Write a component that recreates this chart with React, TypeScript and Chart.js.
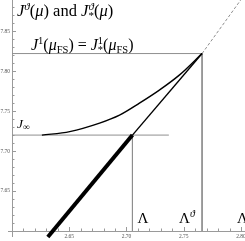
import React, { useEffect, useRef } from "react";
import { Chart, registerables } from "chart.js";

Chart.register(...registerables);

// ---- data ----
const xTickValues = [2.65, 2.7, 2.75, 2.8];
const yTickValues = [7.65, 7.7, 7.75, 7.8, 7.85];
const xRange = [2.6, 2.8035];
const yRange = [7.6, 7.889];

const J1 = 7.822; // J^1(mu_FS)
const Jinf = 7.72; // J_infinity
const Lambda = 2.7052;
const LambdaTheta = 2.766;
const JinfLineEnd = 2.737;

// J^theta(mu) curve
const curveX = [2.6261, 2.6504, 2.6765, 2.6939, 2.7113, 2.7287, 2.7461, 2.766];
const curveY = [7.72, 7.7244, 7.735, 7.745, 7.76, 7.7763, 7.795, 7.822];

// J^theta_*(mu) straight line: thick part, thin part
const thickX = [2.6313, Lambda];
const thickY = [7.5925, Jinf];
const thinX = [Lambda, LambdaTheta];
const thinY = [Jinf, J1];
// dashed continuation
const dashX = [LambdaTheta, 2.8];
const dashY = [J1, 7.8895];

const FAMILY = '"Liberation Serif", "DejaVu Serif", serif';

type Seg = { t?: string; it?: boolean; size?: number; dy?: number; stack?: Seg[] };

function drawRich(ctx: CanvasRenderingContext2D, x: number, y: number, segs: Seg[], base: number) {
  const drawOne = (s: Seg, px: number) => {
    const size = s.size ?? base;
    ctx.font = `${s.it ? "italic " : ""}${size}px ${FAMILY}`;
    ctx.fillText(s.t || "", px, y + (s.dy || 0));
    return ctx.measureText(s.t || "").width;
  };
  for (const s of segs) {
    if (s.stack) {
      let w = 0;
      for (const sub of s.stack) w = Math.max(w, drawOne(sub, x));
      x += w;
    } else {
      x += drawOne(s, x);
    }
  }
}

const annotations = {
  id: "annotations",
  beforeDatasetsDraw(chart: any) {
    const ctx: CanvasRenderingContext2D = chart.ctx;
    const xs = chart.scales.x;
    const ys = chart.scales.y;
    const x0 = xs.getPixelForValue(xRange[0]);
    const y0 = ys.getPixelForValue(yRange[0]);
    ctx.save();
    ctx.strokeStyle = "#9a9a9a";
    ctx.lineWidth = 1;
    ctx.beginPath();
    // y axis (extends slightly below x axis)
    ctx.moveTo(Math.round(x0) + 0.5, 0);
    ctx.lineTo(Math.round(x0) + 0.5, y0 + 6);
    // x axis (extends slightly left of y axis)
    ctx.moveTo(x0 - 4, Math.round(y0) + 0.5);
    ctx.lineTo(chart.width, Math.round(y0) + 0.5);
    ctx.stroke();
    // inward ticks
    ctx.beginPath();
    for (let k = 0; k <= 30; k++) {
      const v = 7.6 + k * 0.01;
      if (v > yRange[1]) break;
      const major = yTickValues.some((t) => Math.abs(t - v) < 1e-6);
      const py = Math.round(ys.getPixelForValue(v)) + 0.5;
      ctx.moveTo(x0, py);
      ctx.lineTo(x0 + (major ? 4 : 2.5), py);
    }
    for (let k = 0; k <= 25; k++) {
      const v = 2.6 + k * 0.01;
      if (v > xRange[1]) break;
      const major = xTickValues.some((t) => Math.abs(t - v) < 1e-6);
      const px = Math.round(xs.getPixelForValue(v)) + 0.5;
      ctx.moveTo(px, y0);
      ctx.lineTo(px, y0 - (major ? 4 : 2.5));
    }
    ctx.stroke();
    ctx.restore();
  },
  afterDatasetsDraw(chart: any) {
    const ctx: CanvasRenderingContext2D = chart.ctx;
    const xs = chart.scales.x;
    const ys = chart.scales.y;
    ctx.save();
    ctx.fillStyle = "#000";
    ctx.textAlign = "left";
    ctx.textBaseline = "alphabetic";
    const x0 = xs.getPixelForValue(xRange[0]);
    // title label
    drawRich(
      ctx,
      x0 + 5,
      16,
      [
        { t: "J", it: true },
        { t: "ϑ", it: true, size: 11, dy: -6 },
        { t: "(" },
        { t: "μ", it: true },
        { t: ") and " },
        { t: "J", it: true },
        { stack: [{ t: "ϑ", it: true, size: 11, dy: -6 }, { t: "*", size: 11, dy: 3 }] },
        { t: "(" },
        { t: "μ", it: true },
        { t: ")" },
      ],
      16.5
    );
    // J^1 label
    const yJ1 = ys.getPixelForValue(J1);
    drawRich(
      ctx,
      x0 + 19,
      yJ1 - 4,
      [
        { t: "J", it: true },
        { t: "1", size: 10.5, dy: -6 },
        { t: "(" },
        { t: "μ", it: true },
        { t: "FS", size: 10.5, dy: 3 },
        { t: ") = " },
        { t: "J", it: true },
        { stack: [{ t: "1", size: 10.5, dy: -6 }, { t: "*", size: 10.5, dy: 3 }] },
        { t: "(" },
        { t: "μ", it: true },
        { t: "FS", size: 10.5, dy: 3 },
        { t: ")" },
      ],
      16
    );
    // J_inf label
    const yJi = ys.getPixelForValue(Jinf);
    drawRich(
      ctx,
      x0 + 5,
      yJi - 7,
      [
        { t: "J", it: true },
        { t: "∞", size: 9.5, dy: 2 },
      ],
      13.5
    );
    // Lambda labels
    const yL = ys.getPixelForValue(yRange[0]) - 8;
    drawRich(ctx, xs.getPixelForValue(Lambda) + 5, yL, [{ t: "Λ" }], 15);
    drawRich(
      ctx,
      xs.getPixelForValue(LambdaTheta) - 23,
      yL,
      [{ t: "Λ" }, { t: "ϑ", it: true, size: 10, dy: -6 }],
      15
    );
    drawRich(ctx, xs.getPixelForValue(2.8) - 4, yL, [{ t: "Λ" }], 15);
    ctx.restore();
  },
};

const pts = (xs: number[], ys: number[]) => xs.map((x, i) => ({ x, y: ys[i] }));

export default function App() {
  const ref = useRef<HTMLCanvasElement | null>(null);
  useEffect(() => {
    document.body.style.margin = "0";
    const grey = "#8f8f8f";
    const chart = new Chart(ref.current as HTMLCanvasElement, {
      type: "scatter",
      data: {
        datasets: [
          { data: pts(curveX, curveY), borderColor: "#000", borderWidth: 1.4, cubicInterpolationMode: "monotone" },
          { data: pts(thinX, thinY), borderColor: "#000", borderWidth: 1.4 },
          { data: pts(thickX, thickY), borderColor: "#000", borderWidth: 4, clip: false as any, borderCapStyle: "butt" },
          { data: pts(dashX, dashY), borderColor: grey, borderWidth: 1, borderDash: [3, 2] },
          { data: pts([xRange[0], LambdaTheta], [J1, J1]), borderColor: grey, borderWidth: 1 },
          { data: pts([LambdaTheta, LambdaTheta], [J1, yRange[0]]), borderColor: grey, borderWidth: 1 },
          { data: pts([xRange[0], JinfLineEnd], [Jinf, Jinf]), borderColor: grey, borderWidth: 1 },
          { data: pts([Lambda, Lambda], [Jinf, yRange[0]]), borderColor: grey, borderWidth: 1 },
        ].map((d) => ({ ...d, showLine: true, pointRadius: 0, pointHoverRadius: 0, fill: false })) as any,
      },
      options: {
        animation: false,
        responsive: false,
        events: [],
        layout: { padding: 0 },
        plugins: { legend: { display: false }, tooltip: { enabled: false } },
        scales: {
          x: {
            type: "linear",
            position: "bottom",
            min: xRange[0],
            max: xRange[1],
            bounds: "data",
            grid: { display: false, drawTicks: false },
            border: { display: false },
            afterBuildTicks: (s: any) => {
              s.ticks = xTickValues.map((v) => ({ value: v }));
            },
            afterFit: (s: any) => {
              s.height = 10;
              s.paddingLeft = 0;
              s.paddingRight = 0;
            },
            ticks: {
              autoSkip: false,
              maxRotation: 0,
              minRotation: 0,
              padding: 2,
              color: "#555",
              font: { family: FAMILY, size: 5.5 },
              callback: (v: any) => Number(v).toFixed(2),
            },
          },
          y: {
            type: "linear",
            position: "left",
            min: yRange[0],
            max: yRange[1],
            bounds: "data",
            grid: { display: false, drawTicks: false },
            border: { display: false },
            afterBuildTicks: (s: any) => {
              s.ticks = yTickValues.map((v) => ({ value: v }));
            },
            afterFit: (s: any) => {
              s.width = 12;
              s.paddingTop = 0;
              s.paddingBottom = 0;
            },
            ticks: {
              autoSkip: false,
              padding: 2,
              color: "#555",
              font: { family: FAMILY, size: 5.5 },
              callback: (v: any) => Number(v).toFixed(2),
            },
          },
        },
      },
      plugins: [annotations],
    });
    return () => chart.destroy();
  }, []);
  return (
    <div style={{ position: "absolute", left: 0, top: 0, width: 245, height: 241 }}>
      <canvas ref={ref} width={245} height={241} style={{ width: 245, height: 241, display: "block" }} />
    </div>
  );
}
